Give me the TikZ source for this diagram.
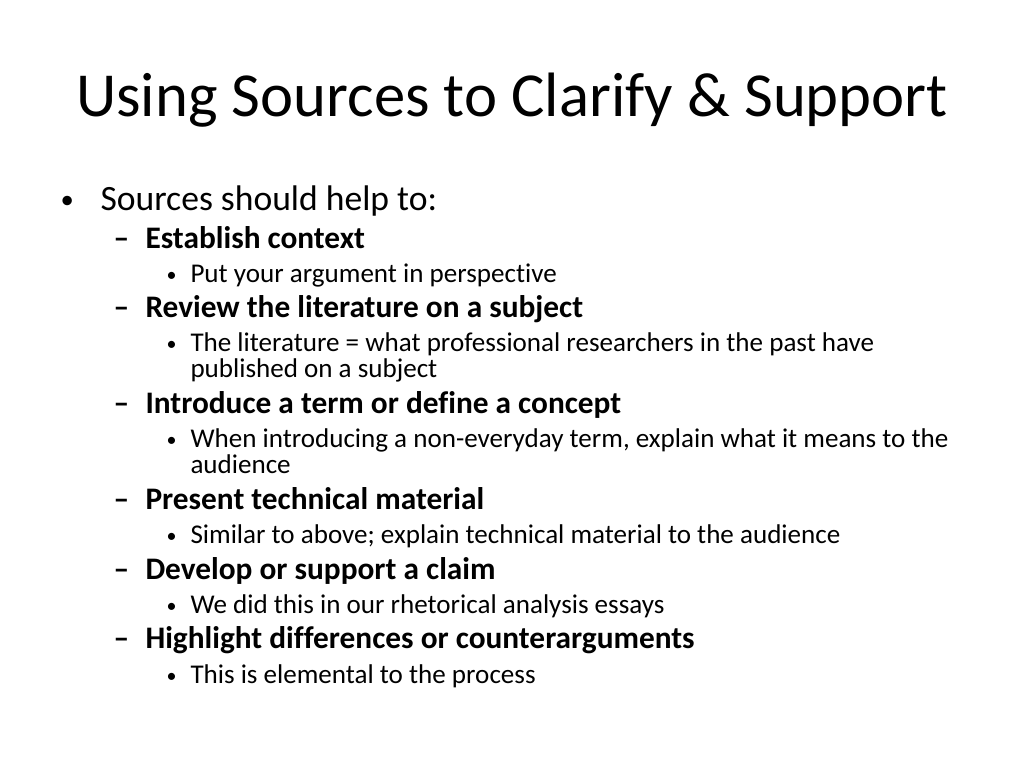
\documentclass[tikz,border=0pt]{standalone}
\usepackage{fontspec}
\setmainfont{Carlito}[Ligatures=NoCommon]
\tikzset{every picture/.style={line width=0.75pt}}
\tikzset{
  lvlone/.style={anchor=base west,inner sep=0pt,font=\fontsize{26.7}{30}\selectfont},
  lvltwo/.style={anchor=base west,inner sep=0pt,font=\fontsize{23.5}{26}\selectfont\bfseries},
  lvlthree/.style={anchor=base west,inner sep=0pt,font=\fontsize{20.3}{23}\selectfont},
  dotone/.style={anchor=base west,inner sep=0pt,font=\fontsize{20}{22}\selectfont},
  dotthree/.style={anchor=base west,inner sep=0pt,font=\fontsize{15}{17}\selectfont},
}
\begin{document}
\begin{tikzpicture}[x=0.75pt,y=0.75pt,yscale=-1,xscale=1]
        \useasboundingbox (0,0) rectangle (1024,768);
        %Title
        \node [anchor=base,inner sep=0pt,font=\fontsize{47}{50}\selectfont] (title) at (512,116) {Using Sources to Clarify \& Support};
        %Level one
        \node [dotone] (bulA) at (60,208) {•};
        \node [lvlone] (srcs) at (100,210) {Sources should help to:};
        %Level two and three
        \node [lvltwo] (dA) at (113,248) {–};
        \node [lvltwo] (est) at (145,248) {Establish context};
        \node [dotthree] (bA) at (166,281) {•};
        \node [lvlthree] (put) at (190,282) {Put your argument in perspective};
        \node [lvltwo] (dB) at (113,317) {–};
        \node [lvltwo] (rev) at (145,317) {Review the literature on a subject};
        \node [dotthree] (bB) at (166,350) {•};
        \node [lvlthree] (lit) at (190,351) {The literature = what professional researchers in the past have};
        \node [lvlthree] (pub) at (190,377) {published on a subject};
        \node [lvltwo] (dC) at (113,413) {–};
        \node [lvltwo] (intro) at (145,413) {Introduce a term or define a concept};
        \node [dotthree] (bC) at (166,446) {•};
        \node [lvlthree] (when) at (190,447) {When introducing a non-everyday term, explain what it means to the};
        \node [lvlthree] (aud) at (190,473) {audience};
        \node [lvltwo] (dD) at (113,509) {–};
        \node [lvltwo] (pres) at (145,509) {Present technical material};
        \node [dotthree] (bD) at (166,542) {•};
        \node [lvlthree] (sim) at (190,543) {Similar to above; explain technical material to the audience};
        \node [lvltwo] (dE) at (113,579) {–};
        \node [lvltwo] (dev) at (145,579) {Develop or support a claim};
        \node [dotthree] (bE) at (166,612) {•};
        \node [lvlthree] (wedid) at (190,613) {We did this in our rhetorical analysis essays};
        \node [lvltwo] (dF) at (113,648) {–};
        \node [lvltwo] (high) at (145,648) {Highlight differences or counterarguments};
        \node [dotthree] (bF) at (166,682) {•};
        \node [lvlthree] (elem) at (190,683) {This is elemental to the process};
\end{tikzpicture}
\end{document}
